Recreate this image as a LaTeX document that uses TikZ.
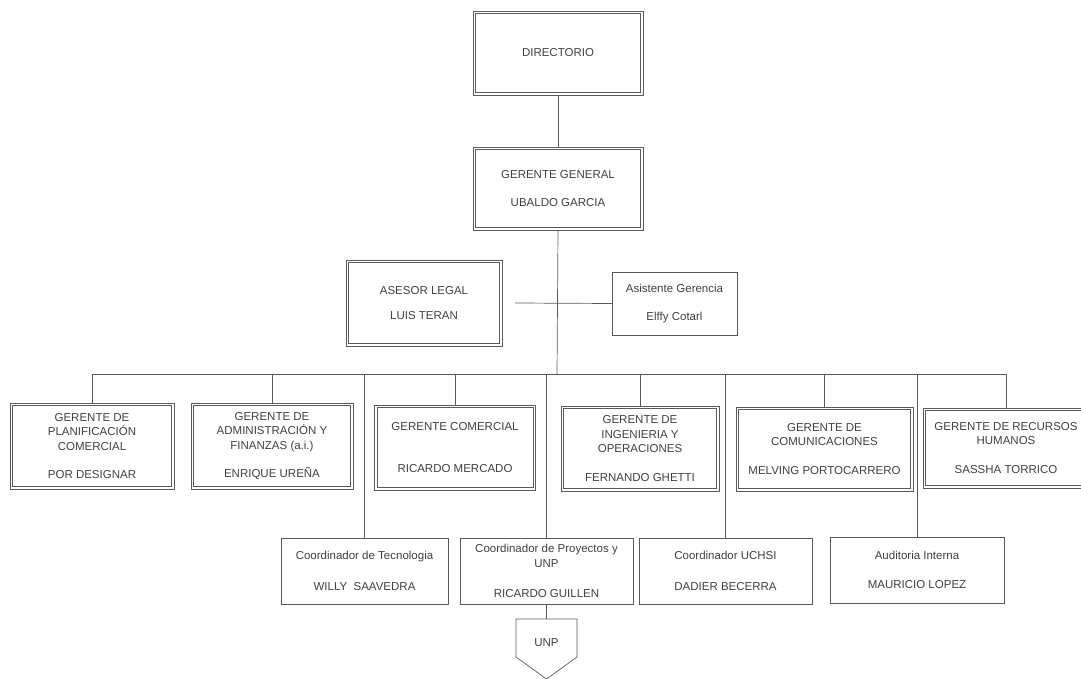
\documentclass[tikz,border=0pt]{standalone}
\usepackage{fontspec}
\setmainfont{Liberation Sans}
\begin{document}
\begin{tikzpicture}[x=1pt,y=-1pt,line cap=rect,
		dblbox/.style={draw=custcol_5a_5a_5a, line width=0.7pt, inner sep=0, align=center, text=custcol_40_40_40, font=\fontsize{11.5pt}{14.5pt}\selectfont,
			path picture={\draw[custcol_5a_5a_5a, line width=0.6pt] ([shift={(2.4,2.4)}]path picture bounding box.north west) rectangle ([shift={(-2.4,-2.4)}]path picture bounding box.south east);}},
		sglbox/.style={draw=custcol_5a_5a_5a, line width=0.8pt, inner sep=0, align=center, text=custcol_40_40_40, font=\fontsize{11.5pt}{14.5pt}\selectfont},
		link/.style={draw=custcol_5a_5a_5a, line width=0.7pt}]
					\definecolor{custcol_5a_5a_5a}{RGB}{90, 90, 90}
					\definecolor{custcol_40_40_40}{RGB}{64, 64, 64}
					\useasboundingbox (0,0) rectangle (1081,679);
					% upper part
					\node[dblbox, minimum width=170, minimum height=84] (dir) at (558,53) {DIRECTORIO};
					\node[dblbox, minimum width=170, minimum height=83] (gg) at (558,188.5) {GERENTE GENERAL\\[14pt]UBALDO GARCIA};
					\node[dblbox, minimum width=156, minimum height=86] (asesor) at (424,303) {ASESOR LEGAL\\[10pt]LUIS TERAN};
					\node[sglbox, minimum width=125, minimum height=63] (asist) at (674.5,303.5) {Asistente Gerencia\\[14pt]Elffy Cotarl};
					\coordinate (bus) at (557,374);
					\draw[link] (dir) -- (gg);
					\draw[link] (gg.south) -- (bus);
					\draw[link] ([xshift=13pt]asesor.east) -- (asist.west);
					% gerentes
					\node[dblbox, minimum width=164, minimum height=86] (plan) at (92,446) {GERENTE DE\\PLANIFICACIÓN\\COMERCIAL\\[14pt]POR DESIGNAR};
					\node[dblbox, minimum width=162, minimum height=86] (admin) at (272,446) {GERENTE DE\\ADMINISTRACIÓN Y\\FINANZAS (a.i.)\\[14pt]ENRIQUE UREÑA};
					\node[dblbox, minimum width=161, minimum height=85] (comer) at (455,447.5) {GERENTE COMERCIAL\\[28pt]RICARDO MERCADO};
					\node[dblbox, minimum width=158, minimum height=85] (ing) at (640,448.5) {GERENTE DE\\INGENIERIA Y\\OPERACIONES\\[14pt]FERNANDO GHETTI};
					\node[dblbox, minimum width=177, minimum height=84] (comun) at (824.5,449) {GERENTE DE\\COMUNICACIONES\\[14pt]MELVING PORTOCARRERO};
					\node[dblbox, minimum width=166, minimum height=80] (rrhh) at (1006,448) {GERENTE DE RECURSOS\\HUMANOS\\[14pt]SASSHA TORRICO};
					% coordinadores
					\node[sglbox, minimum width=167, minimum height=66] (tec) at (364.5,571) {Coordinador de Tecnologia\\[16pt]WILLY\ \ SAAVEDRA};
					\node[sglbox, minimum width=173, minimum height=66] (proy) at (546.5,571) {Coordinador de Proyectos y\\UNP\\[16pt]RICARDO GUILLEN};
					\node[sglbox, minimum width=173, minimum height=66] (uchsi) at (725.5,571) {Coordinador UCHSI\\[16pt]DADIER BECERRA};
					\node[sglbox, minimum width=174, minimum height=66] (audit) at (917,570) {Auditoria Interna\\[14pt]MAURICIO LOPEZ};
					\foreach \unit in {plan,admin,comer,ing,comun,rrhh,tec,proy,uchsi,audit}
						\draw[link] (bus) -| (\unit.north);
					% UNP
					\draw[custcol_5a_5a_5a, line width=0.7pt, line join=miter] (516,619) -- (577,619) -- (577,657) -- (546.5,679) -- (516,657) -- cycle;
					\node[inner sep=0, text=custcol_40_40_40, font=\fontsize{11.5pt}{14.5pt}\selectfont] (unp) at (546.5,643) {UNP};
					\coordinate (unptop) at (546.5,619);
					\draw[link] (proy.south) -- (unptop);
				\end{tikzpicture}
\end{document}
